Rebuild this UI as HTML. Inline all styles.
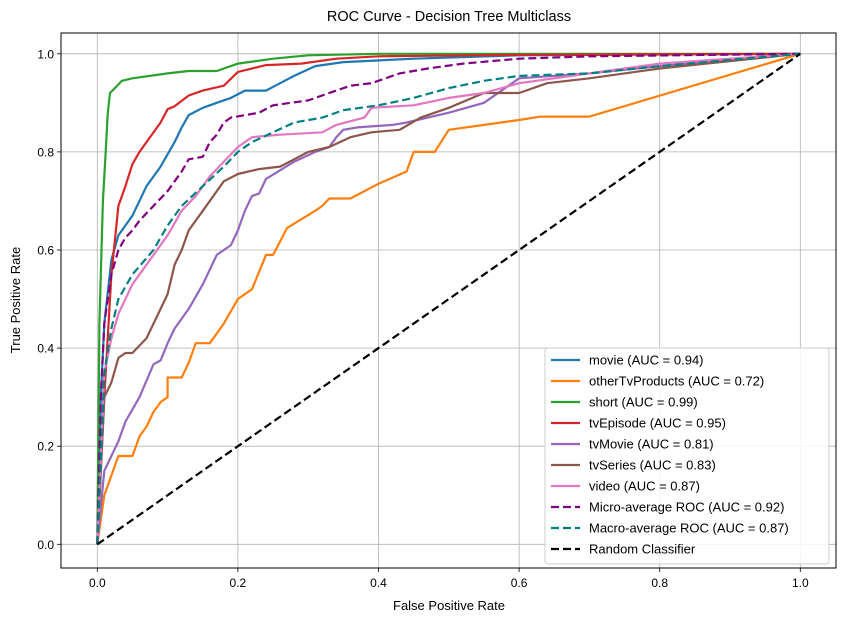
<!DOCTYPE html>
<html><head><meta charset="utf-8"><style>
body{margin:0;background:#fff;}
svg text{font-family:"Liberation Sans","DejaVu Sans",sans-serif;fill:#000;}
</style></head><body>
<svg id="chart" width="846" height="622" xmlns="http://www.w3.org/2000/svg">
<text x="449" y="21" font-size="14.5" text-anchor="middle">ROC Curve - Decision Tree Multiclass</text>
<g id="grid"></g>
<g id="curves"></g>
<rect x="61" y="33" width="775" height="535" fill="none" stroke="#000" stroke-width="1"/>
<g id="ticks"></g>
<text x="449" y="610" font-size="13" text-anchor="middle">False Positive Rate</text>
<text transform="translate(20,300) rotate(-90)" font-size="13" text-anchor="middle">True Positive Rate</text>
<g id="legend"></g>
</svg>
<script>
const xTicks=[0,0.2,0.4,0.6,0.8,1.0];
const yTicks=[0,0.2,0.4,0.6,0.8,1.0];
const seriesNames=["movie (AUC = 0.94)","otherTvProducts (AUC = 0.72)","short (AUC = 0.99)","tvEpisode (AUC = 0.95)","tvMovie (AUC = 0.81)","tvSeries (AUC = 0.83)","video (AUC = 0.87)","Micro-average ROC (AUC = 0.92)","Macro-average ROC (AUC = 0.87)","Random Classifier"];
const movie=[[0,0],[0.005,0.3],[0.01,0.45],[0.02,0.58],[0.03,0.63],[0.05,0.67],[0.07,0.73],[0.09,0.77],[0.11,0.82],[0.12,0.85],[0.13,0.875],[0.15,0.89],[0.17,0.9],[0.19,0.91],[0.21,0.925],[0.24,0.925],[0.26,0.94],[0.28,0.955],[0.31,0.975],[0.35,0.983],[0.45,0.99],[0.6,0.997],[1,1]];
const otherTv=[[0,0],[0.01,0.1],[0.03,0.18],[0.05,0.18],[0.06,0.22],[0.07,0.24],[0.08,0.27],[0.09,0.29],[0.1,0.3],[0.1,0.34],[0.12,0.34],[0.13,0.37],[0.14,0.41],[0.16,0.41],[0.18,0.45],[0.2,0.5],[0.22,0.52],[0.24,0.59],[0.25,0.59],[0.27,0.645],[0.31,0.68],[0.32,0.69],[0.33,0.705],[0.36,0.705],[0.38,0.72],[0.4,0.735],[0.44,0.76],[0.45,0.8],[0.48,0.8],[0.5,0.845],[0.6,0.865],[0.63,0.872],[0.7,0.872],[1,1]];
const shortS=[[0,0],[0.003,0.45],[0.008,0.7],[0.012,0.8],[0.015,0.88],[0.018,0.92],[0.025,0.93],[0.035,0.945],[0.05,0.95],[0.1,0.96],[0.13,0.965],[0.17,0.965],[0.2,0.98],[0.25,0.99],[0.3,0.997],[0.4,1],[1,1]];
const tvEpisode=[[0,0],[0.01,0.3],[0.02,0.55],[0.03,0.69],[0.04,0.73],[0.05,0.775],[0.06,0.8],[0.07,0.82],[0.09,0.86],[0.1,0.887],[0.11,0.893],[0.13,0.915],[0.15,0.925],[0.18,0.935],[0.2,0.963],[0.24,0.977],[0.29,0.98],[0.34,0.99],[0.4,0.995],[0.6,0.998],[1,1]];
const tvMovie=[[0,0],[0.01,0.15],[0.02,0.18],[0.03,0.21],[0.04,0.25],[0.06,0.3],[0.08,0.367],[0.09,0.375],[0.1,0.41],[0.11,0.44],[0.13,0.48],[0.15,0.53],[0.16,0.56],[0.17,0.59],[0.19,0.61],[0.2,0.64],[0.21,0.68],[0.22,0.71],[0.23,0.715],[0.24,0.745],[0.28,0.78],[0.31,0.8],[0.33,0.81],[0.34,0.83],[0.35,0.845],[0.37,0.85],[0.42,0.855],[0.44,0.86],[0.5,0.88],[0.55,0.9],[0.6,0.95],[0.7,0.96],[0.8,0.975],[1,1]];
const tvSeries=[[0,0],[0.01,0.3],[0.02,0.33],[0.03,0.38],[0.04,0.39],[0.05,0.39],[0.07,0.42],[0.09,0.48],[0.1,0.51],[0.11,0.57],[0.12,0.6],[0.13,0.64],[0.15,0.68],[0.17,0.72],[0.18,0.74],[0.2,0.755],[0.23,0.765],[0.26,0.77],[0.28,0.785],[0.3,0.8],[0.33,0.81],[0.36,0.83],[0.39,0.84],[0.43,0.845],[0.46,0.87],[0.5,0.89],[0.55,0.92],[0.6,0.92],[0.64,0.94],[0.7,0.95],[0.8,0.97],[1,1]];
const video=[[0,0],[0.01,0.35],[0.02,0.42],[0.03,0.47],[0.05,0.53],[0.07,0.57],[0.1,0.63],[0.12,0.68],[0.14,0.71],[0.16,0.75],[0.18,0.78],[0.2,0.81],[0.22,0.83],[0.26,0.835],[0.32,0.84],[0.34,0.855],[0.38,0.87],[0.39,0.89],[0.45,0.895],[0.5,0.91],[0.55,0.92],[0.6,0.94],[0.7,0.96],[0.8,0.98],[1,1]];
const microAvg=[[0,0],[0.005,0.3],[0.01,0.45],[0.015,0.5],[0.02,0.55],[0.03,0.6],[0.04,0.625],[0.05,0.64],[0.06,0.66],[0.08,0.69],[0.1,0.72],[0.11,0.74],[0.12,0.76],[0.13,0.785],[0.15,0.79],[0.16,0.82],[0.17,0.835],[0.18,0.86],[0.19,0.87],[0.23,0.88],[0.25,0.895],[0.3,0.905],[0.33,0.92],[0.36,0.935],[0.39,0.94],[0.43,0.96],[0.47,0.97],[0.52,0.98],[0.6,0.99],[0.7,0.995],[1,1]];
const macroAvg=[[0,0],[0.01,0.35],[0.02,0.44],[0.03,0.5],[0.05,0.55],[0.08,0.6],[0.1,0.65],[0.12,0.69],[0.15,0.73],[0.18,0.77],[0.2,0.8],[0.22,0.82],[0.25,0.84],[0.28,0.86],[0.32,0.87],[0.35,0.885],[0.4,0.895],[0.45,0.91],[0.5,0.93],[0.55,0.945],[0.6,0.955],[0.7,0.96],[0.8,0.975],[1,1]];
const randomLine=[[0,0],[1,1]];

const NS="http://www.w3.org/2000/svg";
const sx=v=>97.3+v*703;
const sy=v=>544.3-v*490.5;
function mk(tag,attrs,parent){const e=document.createElementNS(NS,tag);for(const k in attrs)e.setAttribute(k,attrs[k]);parent.appendChild(e);return e;}
const grid=document.getElementById('grid'),ticks=document.getElementById('ticks'),curves=document.getElementById('curves'),legend=document.getElementById('legend');
xTicks.forEach(t=>{
  const g=mk('line',{x1:sx(t),x2:sx(t),y1:33,y2:568,stroke:'#b0b0b0','stroke-width':0.8},grid);
  
  
  const tk=mk('line',{x1:sx(t),x2:sx(t),y1:568,y2:572,stroke:'#000','stroke-width':0.8},ticks);
  
  
  const tx=mk('text',{x:sx(t),y:587,'font-size':12,'text-anchor':'middle'},ticks);
  tx.textContent=t.toFixed(1);
  
  
});
yTicks.forEach(t=>{
  const g=mk('line',{x1:61,x2:836,y1:sy(t),y2:sy(t),stroke:'#b0b0b0','stroke-width':0.8},grid);
  
  
  const tk=mk('line',{x1:57,x2:61,y1:sy(t),y2:sy(t),stroke:'#000','stroke-width':0.8},ticks);
  
  
  const tx=mk('text',{x:54,y:sy(t)+4.5,'font-size':12,'text-anchor':'end'},ticks);
  tx.textContent=t.toFixed(1);
  
  
});
const series=[movie,otherTv,shortS,tvEpisode,tvMovie,tvSeries,video,microAvg,macroAvg,randomLine];
const colors=['#1f77b4','#ff7f0e','#2ca02c','#d62728','#9467bd','#8c564b','#e377c2','purple','teal','#000'];
const dashed=[false,false,false,false,false,false,false,true,true,true];
const keys=['movie','other-tv-products','short','tv-episode','tv-movie','tv-series','video','micro-average','macro-average','random-classifier'];
series.forEach((s,i)=>{
  const d=s.map((p,j)=>(j?'L':'M')+sx(p[0]).toFixed(1)+','+sy(p[1]).toFixed(1)).join(' ');
  const p=mk('path',{d:d,fill:'none',stroke:colors[i],'stroke-width':2.2,'stroke-linejoin':'round','stroke-dasharray':dashed[i]?'8,4':'none'},curves);
  
  
});
const box=mk('rect',{x:545,y:348,width:284,height:216,fill:'#fff','fill-opacity':0.85,stroke:'#ccc',rx:3},legend);


seriesNames.forEach((n,i)=>{
  const y=360+i*21;
  const l=mk('line',{x1:551,x2:580,y1:y,y2:y,stroke:colors[i],'stroke-width':2.2,'stroke-dasharray':dashed[i]?'8,4':'none'},legend);
  
  
  const t=mk('text',{x:589,y:y+4.5,'font-size':13},legend);
  t.textContent=n;
  
  
});
</script>
</body></html>
